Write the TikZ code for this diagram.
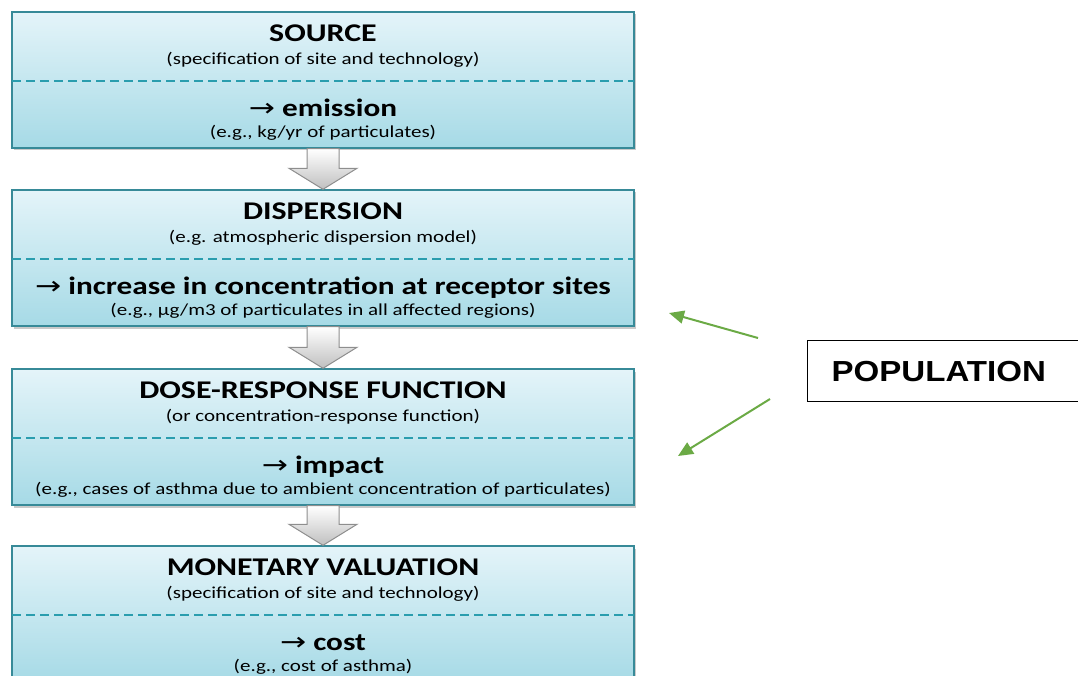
\documentclass[tikz,border=0pt]{standalone}
\usepackage{fontspec}
\setmainfont{Carlito}[FakeStretch=1.25]
\newfontfamily\arrowfont{DejaVu Sans}[FakeStretch=1.25]
\newfontfamily\popfont{Liberation Sans}[FakeStretch=1.14]
\usetikzlibrary{shadows,arrows.meta,calc}
\definecolor{boxtop}{HTML}{E4F4F9}
\definecolor{boxbot}{HTML}{A6DAE6}
\definecolor{boxline}{HTML}{378A98}
\definecolor{dashc}{HTML}{2A9DAE}
\definecolor{greenarr}{HTML}{6BAA45}
\definecolor{arrline}{HTML}{8E8E8E}
\newcommand{\rarr}{{\arrowfont\mdseries\char"2192}}
\begin{document}
\begin{tikzpicture}[x=1pt,y=-1pt,
  stagebox/.style={draw=boxline, line width=1.4pt, top color=boxtop, bottom color=boxbot,
    minimum width=622pt, minimum height=136pt, inner sep=0pt,
    drop shadow={shadow xshift=2pt, shadow yshift=-2.5pt, opacity=0.35, fill=black!60}},
  titletxt/.style={font=\fontsize{25.5}{30}\selectfont\bfseries, anchor=base, inner sep=0pt},
  subtxt/.style={font=\fontsize{16.8}{20}\selectfont, anchor=base, inner sep=0pt},
  maintxt/.style={font=\fontsize{25}{30}\selectfont\bfseries, anchor=base, inner sep=0pt},
  sepline/.style={dashc, line width=1.8pt, dash pattern=on 8.5pt off 5.5pt},
  blockarrow/.style={draw=arrline, line width=1pt, top color=white, bottom color=black!25},
  poparrow/.style={greenarr, line width=2pt, -{Triangle[length=15pt,width=13pt]}},
  popbox/.style={draw=black, line width=1.2pt, anchor=north west, minimum height=61pt,
    inner xsep=24pt, inner ysep=0pt, text width=240pt, align=left,
    font=\popfont\fontsize{29}{33}\selectfont\bfseries}
]
\useasboundingbox (0,0) rectangle (1078,676);
\clip (0,0) rectangle (1078,676);

% stage boxes
\node[stagebox] (b1) at (323,80) {};
\node[stagebox] (b2) at (323,258) {};
\node[stagebox] (b3) at (323,437) {};
\node[stagebox] (b4) at (323,614) {};

% separators
\foreach \b in {b1,b2,b3,b4}{
  \draw[sepline] ($(\b.north west)+(1,70)$) -- ($(\b.north east)+(-1,70)$);
}

% texts box 1
\node[titletxt] (t1) at ($(b1.north)+(0,30)$) {SOURCE};
\node[subtxt] (s1) at ($(b1.north)+(0,53)$) {(specification of site and technology)};
\node[maintxt] (m1) at ($(b1.north)+(0,105)$) {\rarr\ emission};
\node[subtxt] (e1) at ($(b1.north)+(0,126)$) {(e.g., kg/yr of particulates)};

% texts box 2
\node[titletxt] (t2) at ($(b2.north)+(0,30)$) {DISPERSION};
\node[subtxt] (s2) at ($(b2.north)+(0,53)$) {(e.g. atmospheric dispersion model)};
\node[maintxt] (m2) at ($(b2.north)+(0,105)$) {\rarr\ increase in concentration at receptor sites};
\node[subtxt] (e2) at ($(b2.north)+(0,126)$) {(e.g., µg/m3 of particulates in all affected regions)};

% texts box 3
\node[titletxt] (t3) at ($(b3.north)+(0,30)$) {DOSE-RESPONSE FUNCTION};
\node[subtxt] (s3) at ($(b3.north)+(0,53)$) {(or concentration-response function)};
\node[maintxt] (m3) at ($(b3.north)+(0,105)$) {\rarr\ impact};
\node[subtxt] (e3) at ($(b3.north)+(0,126)$) {(e.g., cases of asthma due to ambient concentration of particulates)};

% texts box 4
\node[titletxt] (t4) at ($(b4.north)+(0,30)$) {MONETARY VALUATION};
\node[subtxt] (s4) at ($(b4.north)+(0,53)$) {(specification of site and technology)};
\node[maintxt] (m4) at ($(b4.north)+(0,105)$) {\rarr\ cost};
\node[subtxt] (e4) at ($(b4.north)+(0,126)$) {(e.g., cost of asthma)};

% block arrows
\foreach \a/\b in {b1/b2,b2/b3,b3/b4}{
  \draw[blockarrow] ($(\a.south)+(-16,0)$) -- ($(\a.south)+(16,0)$)
    -- ($(\b.north)+(16,-21)$) -- ($(\b.north)+(34,-21)$) -- (\b.north)
    -- ($(\b.north)+(-34,-21)$) -- ($(\b.north)+(-16,-21)$) -- cycle;
}

% population
\node[popbox] (pop) at (807,340) {POPULATION};

\coordinate (ga1s) at (758,338);
\coordinate (ga1e) at (669,313);
\coordinate (ga2s) at (770,399);
\coordinate (ga2e) at (678,456);
\draw[poparrow] (ga1s) -- (ga1e);
\draw[poparrow] (ga2s) -- (ga2e);
\end{tikzpicture}
\end{document}
